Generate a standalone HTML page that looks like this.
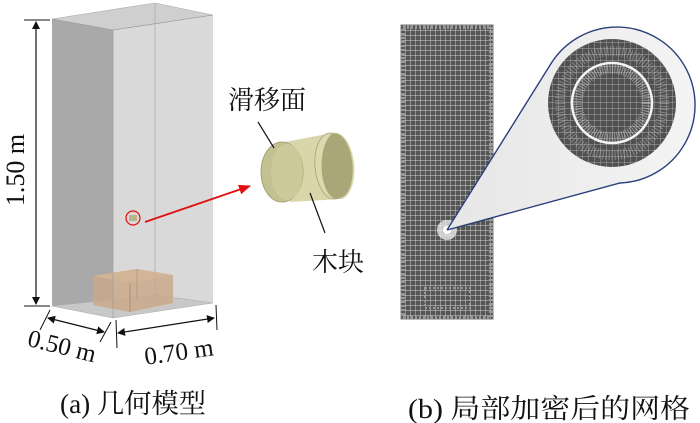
<!DOCTYPE html>
<html><head><meta charset="utf-8"><style>
html,body{margin:0;padding:0;background:#fff;}
body{width:700px;height:423px;overflow:hidden;position:relative;}
svg{position:absolute;left:0;top:0;}
</style></head><body>
<svg width="700" height="423" viewBox="0 0 700 423" xmlns="http://www.w3.org/2000/svg">
<defs>
<pattern id="grid" width="5" height="5" patternUnits="userSpaceOnUse">
<rect width="5" height="5" fill="#555"/>
<path d="M0 0H5M0 0V5" stroke="#d8d8d8" stroke-width="0.9"/>
</pattern>
<pattern id="grid2" width="6" height="6" patternUnits="userSpaceOnUse">
<rect width="6" height="6" fill="#505050"/>
<path d="M0 0H6M0 0V6" stroke="#c4c4c4" stroke-width="0.7"/>
</pattern>
<linearGradient id="cone" x1="0" y1="0" x2="1" y2="0">
<stop offset="0" stop-color="#e6e6e6"/><stop offset="1" stop-color="#f4f4f4"/>
</linearGradient>
<marker id="ar" markerWidth="8" markerHeight="8" refX="7" refY="4" orient="auto" markerUnits="userSpaceOnUse">
<path d="M0 0L8 4L0 8z" fill="#111"/></marker>
<marker id="al" markerWidth="8" markerHeight="8" refX="1" refY="4" orient="auto" markerUnits="userSpaceOnUse">
<path d="M8 0L0 4L8 8z" fill="#111"/></marker>
<marker id="red" markerWidth="12" markerHeight="10" refX="11" refY="5" orient="auto" markerUnits="userSpaceOnUse">
<path d="M0 0L12 5L0 10z" fill="#e01010"/></marker>
</defs>

<polygon points="52,19 113,30 113,318 52,306" fill="#a9a9a9"/>
<polygon points="113,30 213,15 213,303 113,318" fill="#d9d9d9"/>
<polygon points="52,19 155,3 213,15 113,30" fill="#cfcfcf" stroke="#aaa" stroke-width="0.6"/>
<line x1="155" y1="3" x2="155" y2="295" stroke="#aaa" stroke-width="0.7"/>
<polygon points="52,306 155,295 213,303 113,318" fill="#c8c8c8" stroke="#aaa" stroke-width="0.5"/>
<polygon points="93,276 137,269 173,275 173,303 130,312 93,305" fill="#c9a98a" opacity="0.85"/>
<polygon points="93,276 137,269 173,275 130,283" fill="#d2b496"/>
<line x1="130" y1="283" x2="130" y2="312" stroke="#a58466" stroke-width="0.7"/>
<line x1="137" y1="269" x2="137" y2="300" stroke="#a58466" stroke-width="0.5"/>
<polyline points="52,19 113,30 213,15" fill="none" stroke="#999" stroke-width="0.6"/>
<line x1="113" y1="30" x2="113" y2="318" stroke="#999" stroke-width="0.6"/>
<circle cx="133" cy="218" r="7" fill="none" stroke="#e01010" stroke-width="1.2"/>
<rect x="129" y="215" width="8" height="6" fill="#b8b48a"/>
<line x1="145" y1="222" x2="250" y2="186" stroke="#e01010" stroke-width="1.8" marker-end="url(#red)"/>
<line x1="24" y1="20" x2="50" y2="20" stroke="#111"/>
<line x1="24" y1="306" x2="50" y2="306" stroke="#111"/>
<line x1="36" y1="22" x2="36" y2="304" stroke="#111" stroke-width="1.2" marker-start="url(#al)" marker-end="url(#ar)"/>
<text transform="translate(24,170) rotate(-90)" font-family="Liberation Serif,serif" font-size="26" text-anchor="middle" fill="#111">1.50 m</text>
<line x1="50" y1="310" x2="40" y2="330" stroke="#111"/>
<line x1="111" y1="322" x2="100" y2="342" stroke="#111"/>
<line x1="48" y1="318" x2="104" y2="332" stroke="#111" stroke-width="1.2" marker-start="url(#al)" marker-end="url(#ar)"/>
<line x1="116" y1="320" x2="117" y2="348" stroke="#111"/>
<line x1="216" y1="305" x2="217" y2="330" stroke="#111"/>
<line x1="118" y1="333" x2="214" y2="318" stroke="#111" stroke-width="1.2" marker-start="url(#al)" marker-end="url(#ar)"/>
<text transform="translate(60,354) rotate(14)" font-family="Liberation Serif,serif" font-size="25" text-anchor="middle" fill="#111">0.50 m</text>
<text transform="translate(180,360) rotate(-8)" font-family="Liberation Serif,serif" font-size="25" text-anchor="middle" fill="#111">0.70 m</text>
<path d="M280,143 L332,133 A17,33 -5 0 1 342,199 L290,202 Z" fill="#d9d6aa"/>
<ellipse cx="332" cy="166" rx="17" ry="33" transform="rotate(-5 332 166)" fill="#dcd9ae" stroke="#a6a27a" stroke-width="0.8"/>
<path d="M332,134 A15,31 -5 0 1 342,197 A14,30 0 0 1 332,134 Z" fill="#a9a678"/>
<ellipse cx="282" cy="172" rx="21" ry="30" fill="#c3c091" stroke="#9c9873" stroke-width="0.8"/>
<ellipse cx="287" cy="172" rx="16" ry="28" fill="#cdc99a"/>
<line x1="258" y1="122" x2="274" y2="148" stroke="#111" stroke-width="1.2"/>
<line x1="310" y1="193" x2="325" y2="233" stroke="#111" stroke-width="1.2"/>
<text x="228" y="109" font-family="Liberation Serif,'Noto Serif CJK SC',serif" font-size="26" fill="#111">滑移面</text>
<text x="312" y="271" font-family="Liberation Serif,'Noto Serif CJK SC',serif" font-size="26" fill="#111">木块</text>

<rect x="401" y="25" width="92" height="294" fill="url(#grid)" stroke="#777" stroke-width="1"/>
<rect x="403" y="27" width="88" height="290" fill="none" stroke="#999" stroke-width="4" stroke-dasharray="2 2"/>
<rect x="425" y="288" width="45" height="20" fill="none" stroke="#999" stroke-width="2" stroke-dasharray="2 2"/>
<circle cx="447" cy="230" r="10" fill="#e8e8e8" opacity="0.8"/>
<circle cx="447" cy="230" r="4" fill="#fff"/>
<path d="M447,230 L552,62 A78,78 0 1 1 620,183 L447,230" fill="url(#cone)" stroke="#2b3f7a" stroke-width="1.4"/>
<circle cx="612" cy="103" r="64" fill="url(#grid2)"/>
<circle cx="612" cy="103" r="52" fill="none" stroke="#aaa" stroke-width="10" stroke-dasharray="1 2" opacity="0.6"/>
<circle cx="612" cy="103" r="40" fill="none" stroke="#f5f5f5" stroke-width="2.5"/>
<circle cx="612" cy="103" r="34" fill="none" stroke="#ddd" stroke-width="9" stroke-dasharray="1 1.5" opacity="0.5"/>

<text x="60" y="413" font-family="Liberation Serif,'Noto Serif CJK SC',serif" font-size="27" textLength="146" lengthAdjust="spacingAndGlyphs" fill="#111">(a) 几何模型</text>
<text x="408" y="418" font-family="Liberation Serif,'Noto Serif CJK SC',serif" font-size="27" textLength="282" lengthAdjust="spacingAndGlyphs" fill="#111">(b) 局部加密后的网格</text>
</svg>
</body></html>
